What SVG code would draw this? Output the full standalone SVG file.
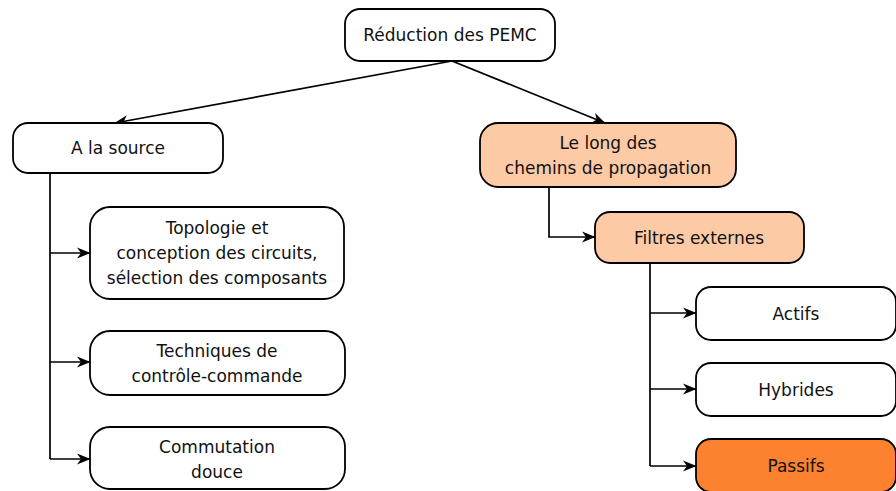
<svg xmlns="http://www.w3.org/2000/svg" width="896" height="491" viewBox="0 0 896 491">
<style>
.box{fill:#ffffff;stroke:#000;stroke-width:1.8}
.lo{fill:#fdcaa6}
.po{fill:#fd822f}
text{font-family:"DejaVu Sans","Liberation Sans",sans-serif;font-size:17px;fill:#111;text-anchor:middle}
.c{fill:none;stroke:#000;stroke-width:1.7}
</style>
<defs>
<marker id="ah" viewBox="-15 -7 16 14" refX="0" refY="0" markerWidth="16" markerHeight="14" markerUnits="userSpaceOnUse" orient="auto">
<path d="M0.5,0 L-13,-5.5 L-9,0 L-13,5.5 Z" fill="#000"/>
</marker>
</defs>
<rect width="896" height="491" fill="#fff"/>
<g id="connectors">
<path class="c" d="M452,61 L115,123" marker-end="url(#ah)"/>
<path class="c" d="M452,61 L605,123" marker-end="url(#ah)"/>
<path class="c" d="M50,173 V459"/>
<path class="c" d="M50,253 H90" marker-end="url(#ah)"/>
<path class="c" d="M50,362 H90" marker-end="url(#ah)"/>
<path class="c" d="M50,459 H90" marker-end="url(#ah)"/>
<path class="c" d="M549,187 V237 H595" marker-end="url(#ah)"/>
<path class="c" d="M650,263 V466"/>
<path class="c" d="M650,313 H696" marker-end="url(#ah)"/>
<path class="c" d="M650,389 H696" marker-end="url(#ah)"/>
<path class="c" d="M650,466 H696" marker-end="url(#ah)"/>
</g>
<g id="root">
<rect class="box" x="345" y="9" width="210" height="52" rx="15"/>
<text x="450" y="41" font-size="17.5">Réduction des PEMC</text>
</g>
<g id="source">
<rect class="box" x="13" y="123" width="210" height="50" rx="15"/>
<text x="118" y="154">A la source</text>
</g>
<g id="topologie">
<rect class="box" x="90" y="207" width="254" height="92" rx="20"/>
<text x="217" y="234">Topologie et</text>
<text x="217" y="259">conception des circuits,</text>
<text x="217" y="284">sélection des composants</text>
</g>
<g id="techniques">
<rect class="box" x="90" y="331" width="255" height="64" rx="20"/>
<text x="217" y="357">Techniques de</text>
<text x="217" y="382">contrôle-commande</text>
</g>
<g id="commutation">
<rect class="box" x="90" y="427" width="255" height="62" rx="20"/>
<text x="217" y="453">Commutation</text>
<text x="217" y="478">douce</text>
</g>
<g id="chemins">
<rect class="box lo" x="480" y="123" width="256" height="64" rx="18"/>
<text x="608" y="149">Le long des</text>
<text x="608" y="174">chemins de propagation</text>
</g>
<g id="filtres">
<rect class="box lo" x="595" y="212" width="209" height="51" rx="15"/>
<text x="699" y="244">Filtres externes</text>
</g>
<g id="actifs">
<rect class="box" x="696" y="287" width="200" height="53" rx="15"/>
<text x="796" y="320">Actifs</text>
</g>
<g id="hybrides">
<rect class="box" x="696" y="363" width="200" height="53" rx="15"/>
<text x="796" y="396">Hybrides</text>
</g>
<g id="passifs">
<rect class="box po" x="696" y="439" width="200" height="53" rx="15"/>
<text x="796" y="472">Passifs</text>
</g>
</svg>
